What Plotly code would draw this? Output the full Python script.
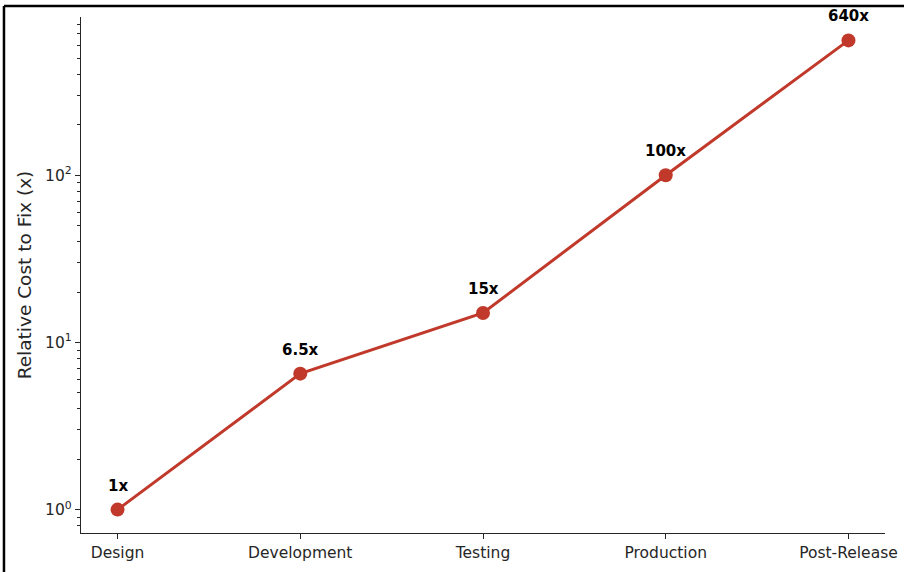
import math
import plotly.graph_objects as go

# Relative cost of fixing a defect, by the stage where it is found
stages = ["Design", "Development", "Testing", "Production", "Post-Release"]
cost_multiplier = [1, 6.5, 15, 100, 640]
value_labels = ["1x", "6.5x", "15x", "100x", "640x"]

major_tick_vals = [1, 10, 100]
major_tick_text = ["10<sup>0</sup>", "10<sup>1</sup>", "10<sup>2</sup>"]
minor_tick_vals = [m * 10 ** k for k in (-1, 0, 1, 2) for m in range(2, 10)]

RED = "#c0392b"
AXIS = "#262626"
FONT = "DejaVu Sans"

fig = go.Figure()
fig.add_trace(go.Scatter(
    x=list(range(len(stages))),
    y=cost_multiplier,
    mode="lines+markers",
    line=dict(color=RED, width=3),
    marker=dict(color=RED, size=14),
    hoverinfo="skip",
    showlegend=False,
))

# value labels above each point (annotation y on a log axis is log10 of the value)
for i, (v, lab) in enumerate(zip(cost_multiplier, value_labels)):
    fig.add_annotation(
        x=i, y=math.log10(v), xref="x", yref="y", text="<b>" + lab + "</b>",
        showarrow=False, yshift=24,
        font=dict(family=FONT, size=15, color="black"),
    )

fig.update_layout(
    width=904, height=572,
    margin=dict(l=81, r=19, t=17, b=39, autoexpand=False),
    paper_bgcolor="white", plot_bgcolor="white",
    font=dict(family=FONT, size=15, color="#262626"),
    xaxis=dict(
        range=[-0.2, 4.2],
        automargin=False,
        tickmode="array",
        tickvals=list(range(len(stages))),
        ticktext=stages,
        showgrid=False, zeroline=False,
        showline=True, linecolor=AXIS, linewidth=1.3,
        ticks="outside", ticklen=5, tickwidth=1.2, tickcolor=AXIS,
        tickfont=dict(family=FONT, size=15.5, color="#262626"),
    ),
    yaxis=dict(
        type="log",
        range=[-0.14, 2.946],
        automargin=False,
        tickmode="array",
        tickvals=major_tick_vals,
        ticktext=major_tick_text,
        showgrid=False, zeroline=False,
        showline=True, linecolor=AXIS, linewidth=1.3,
        ticks="outside", ticklen=5, tickwidth=1.2, tickcolor=AXIS,
        tickfont=dict(family=FONT, size=15.5, color="#262626"),
        minor=dict(tickmode="array", tickvals=minor_tick_vals,
                   ticks="outside", ticklen=3, tickwidth=1, tickcolor=AXIS,
                   showgrid=False),
        title=dict(text="Relative Cost to Fix (x)", standoff=8,
                   font=dict(family=FONT, size=18.5, color="#262626")),
    ),
    shapes=[
        # outer frame (top and left edges)
        dict(type="line", xref="paper", yref="paper",
             x0=-0.0958, x1=1.03, y0=1.0213, y1=1.0213,
             line=dict(color="black", width=2.5)),
        dict(type="line", xref="paper", yref="paper",
             x0=-0.0958, x1=-0.0958, y0=1.0213, y1=-0.08,
             line=dict(color="black", width=2.5)),
    ],
)

fig.write_html("out.html")
